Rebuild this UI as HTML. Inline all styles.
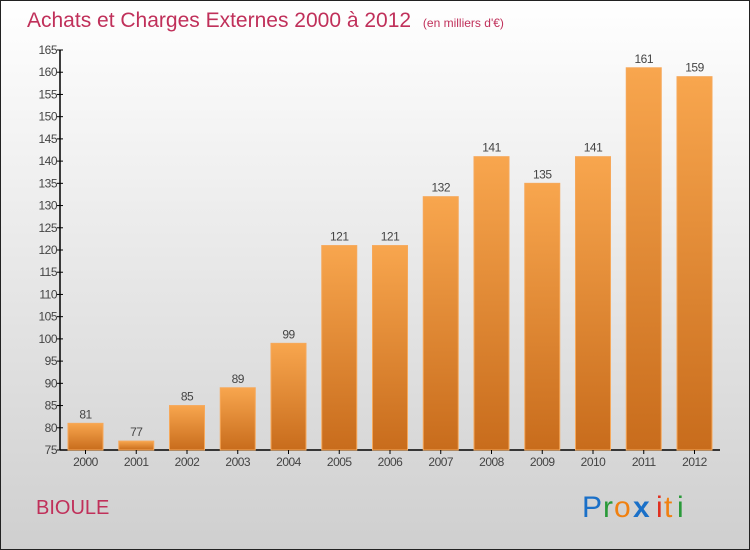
<!DOCTYPE html>
<html><head><meta charset="utf-8"><style>
html,body{margin:0;padding:0}
svg{display:block;font-family:"Liberation Sans",sans-serif}
</style></head><body>
<svg width="750" height="550" viewBox="0 0 750 550">
<defs>
<linearGradient id="bg" x1="0" y1="0" x2="0" y2="1"><stop offset="0" stop-color="#ffffff"/><stop offset="1" stop-color="#cfcfcf"/></linearGradient>
<linearGradient id="bar" x1="0" y1="0" x2="0" y2="1"><stop offset="0" stop-color="#f8a64e"/><stop offset="1" stop-color="#c86c1c"/></linearGradient>
</defs>
<rect x="0.5" y="0.5" width="749" height="549" fill="url(#bg)" stroke="#222"/>
<text x="27" y="27" font-size="21" fill="#c0305a">Achats et Charges Externes 2000 à 2012 <tspan font-size="12" dx="6">(en milliers d'€)</tspan></text>
<g id="axes"></g>
<g id="bars"></g>
<text x="36" y="514" font-size="20" fill="#c0305a">BIOULE</text>
<g font-size="30" font-family="'Liberation Sans',sans-serif">
<text x="582" y="517" fill="#1a70c8">P</text><text x="603" y="517" fill="#2a9a3a">r</text><text x="614" y="517" fill="#f08010">o</text><text x="633" y="517" fill="#1a70c8" font-weight="bold">x</text><text x="656" y="517" fill="#e03020">i</text><text x="664" y="517" fill="#f08010">t</text><text x="677" y="517" fill="#2a9a3a">i</text>
</g>
</svg>
<script>
const years=["2000","2001","2002","2003","2004","2005","2006","2007","2008","2009","2010","2011","2012"];
const values=[81,77,85,89,99,121,121,132,141,135,141,161,159];
const yTicks=[75,80,85,90,95,100,105,110,115,120,125,130,135,140,145,150,155,160,165];
const NS="http://www.w3.org/2000/svg";
const yMin=75,yMax=165,yTop=50,yBot=450;
function y(v){return yBot-(v-yMin)/(yMax-yMin)*(yBot-yTop);}
function x(i){return 85.5+i*50.75;}
function mk(tag,attrs,parent,txt){const e=document.createElementNS(NS,tag);for(const k in attrs)e.setAttribute(k,attrs[k]);if(txt!==undefined)e.textContent=txt;parent.appendChild(e);return e;}
const ax=document.getElementById('axes');
let l=mk('line',{x1:60,y1:yTop,x2:60,y2:yBot,stroke:'#000','stroke-width':1.5},ax);


l=mk('line',{x1:60,y1:yBot,x2:720,y2:yBot,stroke:'#000','stroke-width':1.5},ax);


yTicks.forEach(t=>{
 const tk=mk('line',{x1:57,y1:y(t),x2:63,y2:y(t),stroke:'#000'},ax);
 
 
 const tx=mk('text',{x:57,y:y(t)+4,'font-size':12,fill:'#444','text-anchor':'end','letter-spacing':'-0.5'},ax,t);
 
 
});
const bg=document.getElementById('bars');
values.forEach((v,i)=>{
 const cx=x(i);
 const r=mk('rect',{x:cx-17.5,y:y(v),width:35,height:yBot-y(v),fill:'url(#bar)',stroke:'#f6a85a','stroke-width':1},bg);
 
 
 const vl=mk('text',{x:cx,y:y(v)-5,'font-size':12,fill:'#444','text-anchor':'middle','letter-spacing':'-0.5'},bg,v);
 
 
 const tk=mk('line',{x1:cx,y1:yBot,x2:cx,y2:yBot+4,stroke:'#000'},bg);
 
 
 const xl=mk('text',{x:cx,y:466,'font-size':12,fill:'#444','text-anchor':'middle','letter-spacing':'-0.5'},bg,years[i]);
 
 
});
</script>
</body></html>
